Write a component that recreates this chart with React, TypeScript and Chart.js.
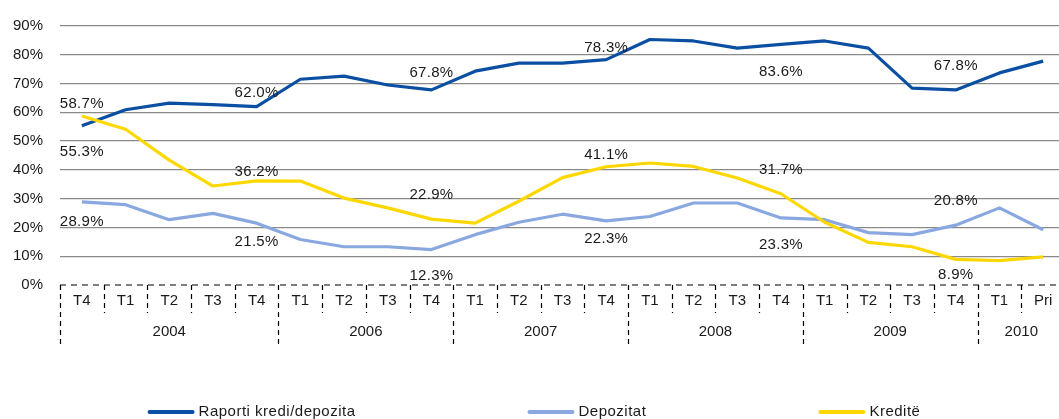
import React, { useEffect, useRef } from 'react';
import { Chart, registerables } from 'chart.js';

Chart.register(...registerables);

// ---- data ----
const categories = ['T4', 'T1', 'T2', 'T3', 'T4', 'T1', 'T2', 'T3', 'T4', 'T1', 'T2', 'T3', 'T4', 'T1', 'T2', 'T3', 'T4', 'T1', 'T2', 'T3', 'T4', 'T1', 'Pri'];
const years = ['2004', '2006', '2007', '2008', '2009', '2010'];
const yearSpans = [5, 4, 4, 4, 4, 2];
const yTicks = [0, 10, 20, 30, 40, 50, 60, 70, 80, 90];

const ratio = [55.3, 60.9, 63.2, 62.7, 62.0, 71.5, 72.6, 69.5, 67.8, 74.3, 77.1, 77.1, 78.3, 85.3, 84.8, 82.3, 83.6, 84.8, 82.3, 68.4, 67.8, 73.7, 77.8];
const deposits = [28.9, 27.9, 22.7, 24.9, 21.5, 15.8, 13.3, 13.3, 12.3, 17.5, 21.8, 24.6, 22.3, 23.8, 28.5, 28.5, 23.3, 22.7, 18.2, 17.5, 20.8, 26.8, 19.2];
const credits = [58.7, 54.1, 43.4, 34.4, 36.2, 36.1, 30.2, 26.8, 22.9, 21.5, 29.1, 37.3, 41.1, 42.4, 41.2, 37.2, 31.7, 21.8, 14.8, 13.3, 8.9, 8.5, 9.8];

const seriesNames = ['Raporti kredi/depozita', 'Depozitat', 'Kreditë'];

// indices that carry value labels
const labelIdx = [0, 4, 8, 12, 16, 20];
// vertical label offsets (px) from the point, per series
const ratioLabelDy = [26, -14, -17, -12, 27, -24];
const depLabelDy = [20, 19, 26, 18, 27, -24];
const credLabelDy = [-12, -9, -24, -12, -24, 15];

// ---- styles ----
const FONT = '"Liberation Sans", Arial, Helvetica, sans-serif';
const COLORS = ['#0b4fa3', '#8aa8e0', '#fdd800'];
const TEXT = '#1a1a1a';
const W = 1070;
const H = 419;

export default function App() {
  const ref = useRef<HTMLCanvasElement | null>(null);

  useEffect(() => {
    const canvas = ref.current;
    if (!canvas) return;

    const overlay = {
      id: 'overlay',
      afterDraw(chart: any) {
        const ctx = chart.ctx as CanvasRenderingContext2D;
        const ca = chart.chartArea;
        const xs = chart.scales.x;
        const ys = chart.scales.y;
        const n = categories.length;
        const step = (ca.right - ca.left) / n;
        const axisY = ca.bottom;

        ctx.save();
        // dashed axis line
        ctx.strokeStyle = '#000';
        ctx.lineWidth = 1.2;
        ctx.setLineDash([6, 5]);
        ctx.beginPath();
        ctx.moveTo(ca.left, axisY);
        ctx.lineTo(ca.right, axisY);
        ctx.stroke();

        // separators
        const yearBounds = new Set<number>();
        let acc = 0;
        yearBounds.add(0);
        for (const s of yearSpans) {
          acc += s;
          yearBounds.add(acc);
        }
        ctx.setLineDash([5, 4]);
        for (let k = 0; k <= n; k++) {
          const x = Math.round(ca.left + k * step) + 0.5;
          const long = yearBounds.has(k);
          ctx.beginPath();
          ctx.moveTo(x, axisY);
          ctx.lineTo(x, long ? axisY + 62 : axisY + 28);
          ctx.stroke();
        }
        ctx.setLineDash([]);

        // year labels
        ctx.fillStyle = TEXT;
        ctx.font = `15px ${FONT}`;
        ctx.textAlign = 'center';
        ctx.textBaseline = 'middle';
        let start = 0;
        years.forEach((yr, i) => {
          const end = start + yearSpans[i];
          const cx = ca.left + ((start + end) / 2) * step;
          ctx.fillText(yr, cx, axisY + 47);
          start = end;
        });

        // data labels
        const all = [
          { data: ratio, dy: ratioLabelDy },
          { data: deposits, dy: depLabelDy },
          { data: credits, dy: credLabelDy },
        ];
        (ctx as any).letterSpacing = '0.3px';
        all.forEach((s) => {
          labelIdx.forEach((idx, j) => {
            const v = s.data[idx];
            const px = xs.getPixelForValue(idx);
            const py = ys.getPixelForValue(v);
            ctx.fillText(v.toFixed(1) + '%', px, py + s.dy[j]);
          });
        });

        // legend
        (ctx as any).letterSpacing = '0.5px';
        const lineLen = 47;
        const gapTxt = 4;
        const spacing = 172;
        const widths = seriesNames.map((t) => ctx.measureText(t).width);
        const total = widths.reduce((a, b) => a + b, 0) + seriesNames.length * (lineLen + gapTxt) + spacing * (seriesNames.length - 1);
        let lx = 534 - total / 2;
        const ly = 412;
        ctx.textAlign = 'left';
        seriesNames.forEach((name, i) => {
          ctx.strokeStyle = COLORS[i];
          ctx.lineWidth = 4;
          ctx.lineCap = 'round';
          ctx.beginPath();
          ctx.moveTo(lx + 2, ly);
          ctx.lineTo(lx + lineLen - 2, ly);
          ctx.stroke();
          ctx.fillStyle = TEXT;
          ctx.fillText(name, lx + lineLen + gapTxt, ly);
          lx += lineLen + gapTxt + widths[i] + spacing;
        });
        (ctx as any).letterSpacing = '0px';
        ctx.restore();
      },
    };

    const mk = (label: string, data: number[], color: string, order: number) => ({
      label,
      data,
      borderColor: color,
      backgroundColor: color,
      borderWidth: 3.2,
      pointRadius: 0,
      tension: 0,
      fill: false,
      order,
      borderJoinStyle: 'round' as const,
    });

    const chart = new Chart(canvas, {
      type: 'line',
      data: {
        labels: categories,
        datasets: [
          mk(seriesNames[0], ratio, COLORS[0], 2),
          mk(seriesNames[1], deposits, COLORS[1], 1),
          mk(seriesNames[2], credits, COLORS[2], 0),
        ],
      },
      options: {
        responsive: false,
        animation: false,
        devicePixelRatio: 1,
        layout: { padding: { top: 18, right: W - 1065, left: 0, bottom: 0 } },
        plugins: { legend: { display: false }, tooltip: { enabled: false } },
        scales: {
          x: {
            type: 'category',
            offset: true,
            grid: { display: false, drawTicks: false },
            border: { display: false },
            ticks: {
              font: { family: FONT, size: 15 },
              color: TEXT,
              padding: 7,
              maxRotation: 0,
              autoSkip: false,
            },
            afterFit: (s: any) => {
              s.height = H - 285;
            },
          },
          y: {
            min: 0,
            max: 90,
            afterBuildTicks: (s: any) => {
              s.ticks = yTicks.map((v) => ({ value: v }));
            },
            ticks: {
              font: { family: FONT, size: 15 },
              color: TEXT,
              padding: 17,
              callback: (v: any) => v + '%',
            },
            grid: {
              drawTicks: false,
              color: (c: any) => (c.tick && c.tick.value === 0 ? 'rgba(0,0,0,0)' : '#8a8a8a'),
              lineWidth: 1.3,
            },
            border: { display: false },
            afterFit: (s: any) => {
              s.width = 60;
            },
          },
        },
      },
      plugins: [overlay],
    } as any);

    return () => chart.destroy();
  }, []);

  return (
    <div style={{ position: 'absolute', left: 0, top: 0, width: 1059, height: H, overflow: 'hidden', background: '#fff' }}>
      <canvas ref={ref} width={W} height={H} style={{ display: 'block', width: W, height: H }} />
    </div>
  );
}
